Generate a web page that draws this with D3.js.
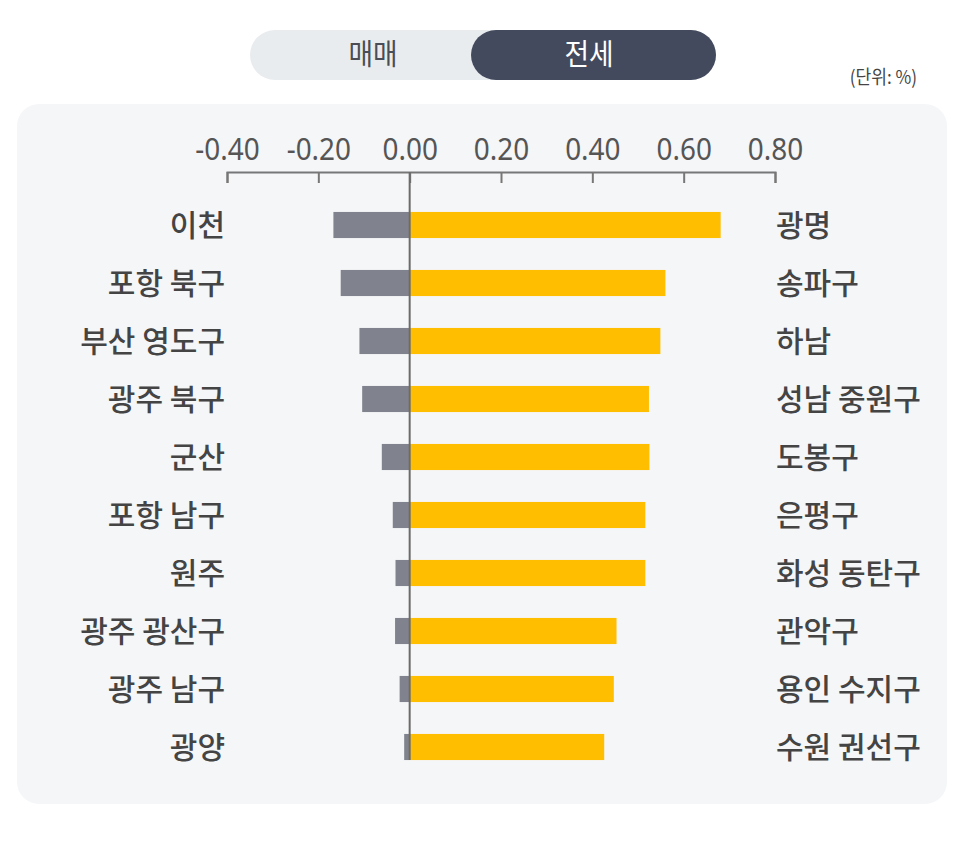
<!DOCTYPE html>
<html>
<head>
<meta charset="utf-8">
<script src="https://cdn.jsdelivr.net/npm/d3@7"></script>
<style>
  html, body { margin: 0; padding: 0; background: #ffffff; }
  svg { display: block; font-family: "Noto Sans CJK KR", "Noto Sans", sans-serif; }
</style>
</head>
<body>
<div id="main-diagram"></div>
<script>
// 하위 10곳 (회색, 왼쪽) / 상위 10곳 (노랑, 오른쪽)
const lowRegions = ['이천', '포항 북구', '부산 영도구', '광주 북구', '군산', '포항 남구', '원주', '광주 광산구', '광주 남구', '광양']
const lowValues = [-0.167, -0.151, -0.110, -0.104, -0.061, -0.037, -0.031, -0.032, -0.022, -0.012]
const highRegions = ['광명', '송파구', '하남', '성남 중원구', '도봉구', '은평구', '화성 동탄구', '관악구', '용인 수지구', '수원 권선구']
const highValues = [0.681, 0.560, 0.549, 0.524, 0.525, 0.516, 0.516, 0.453, 0.447, 0.426]
const tickValues = [-0.4, -0.2, 0, 0.2, 0.4, 0.6, 0.8]
const tabs = ['매매', '전세']

const width = 966
const height = 855

const svg = d3.select('#main-diagram')
    .append('svg')
    .attr('width', width)
    .attr('height', height)

// toggle
svg.append('rect')
    .attr('x', 250).attr('y', 30)
    .attr('width', 466).attr('height', 50)
    .attr('rx', 25)
    .attr('fill', '#e9ecef')
svg.append('rect')
    .attr('x', 471).attr('y', 30)
    .attr('width', 245).attr('height', 50)
    .attr('rx', 25)
    .attr('fill', '#434a5e')
svg.selectAll('.tab')
    .data(tabs)
    .enter()
    .append('text')
    .attr('class', 'tab')
    .attr('transform', (d, i) => `translate(${i === 0 ? 373 : 589},55) scale(0.92,1)`)
    .attr('dy', '0.36em')
    .attr('text-anchor', 'middle')
    .attr('font-size', 29)
    .attr('fill', (d, i) => i === 0 ? '#4a4d55' : '#ffffff')
    .text(d => d)

svg.append('text')
    .attr('transform', 'translate(917,84) scale(0.9,1)')
    .attr('text-anchor', 'end')
    .attr('font-size', 19)
    .attr('fill', '#444')
    .text('(단위: %)')

// panel
svg.append('rect')
    .attr('x', 17).attr('y', 104)
    .attr('width', 930).attr('height', 700)
    .attr('rx', 22)
    .attr('fill', '#f5f6f8')

const x = d3.scaleLinear()
    .domain([-0.4, 0.8])
    .range([227, 775])

const y = d3.scaleBand()
    .domain(d3.range(lowRegions.length))
    .range([196, 776])
    .paddingInner(0.55)
    .paddingOuter(0.275)

// axis on top, ticks hanging down
const axis = svg.append('g')
    .attr('transform', 'translate(0,172)')
    .call(d3.axisTop(x)
        .tickValues(tickValues)
        .tickFormat(d3.format('.2f'))
        .tickSize(-11)
        .tickPadding(12))
axis.select('.domain').attr('stroke', '#777').attr('stroke-width', 2)
axis.selectAll('.tick line').attr('stroke', '#777').attr('stroke-width', 2)
axis.selectAll('.tick text')
    .attr('font-size', 31)
    .attr('fill', '#555')
    .attr('font-family', '"Noto Sans", sans-serif')
    .attr('transform', 'scale(0.9,1)')
    .text(d => d3.format('.2f')(d).replace('−', '-'))

// bars
svg.selectAll('.low')
    .data(lowValues)
    .enter()
    .append('rect')
    .attr('class', 'low')
    .attr('x', d => x(d))
    .attr('y', (d, i) => y(i))
    .attr('width', d => x(0) - x(d))
    .attr('height', y.bandwidth())
    .attr('fill', '#80838e')

svg.selectAll('.high')
    .data(highValues)
    .enter()
    .append('rect')
    .attr('class', 'high')
    .attr('x', x(0))
    .attr('y', (d, i) => y(i))
    .attr('width', d => x(d) - x(0))
    .attr('height', y.bandwidth())
    .attr('fill', '#ffbe00')

// zero line
svg.append('line')
    .attr('x1', x(0)).attr('x2', x(0))
    .attr('y1', 172).attr('y2', y(lowRegions.length - 1) + y.bandwidth())
    .attr('stroke', '#6b6b6b')
    .attr('stroke-width', 2)

// labels
svg.selectAll('.lowLabel')
    .data(lowRegions)
    .enter()
    .append('text')
    .attr('class', 'lowLabel')
    .attr('x', 225)
    .attr('y', (d, i) => y(i) + y.bandwidth() / 2)
    .attr('dy', '0.36em')
    .attr('text-anchor', 'end')
    .attr('font-size', 30)
    .attr('font-weight', 500)
    .attr('fill', '#444')
    .text(d => d)

svg.selectAll('.highLabel')
    .data(highRegions)
    .enter()
    .append('text')
    .attr('class', 'highLabel')
    .attr('x', 776)
    .attr('y', (d, i) => y(i) + y.bandwidth() / 2)
    .attr('dy', '0.36em')
    .attr('text-anchor', 'start')
    .attr('font-size', 30)
    .attr('font-weight', 500)
    .attr('fill', '#444')
    .text(d => d)
</script>
</body>
</html>
